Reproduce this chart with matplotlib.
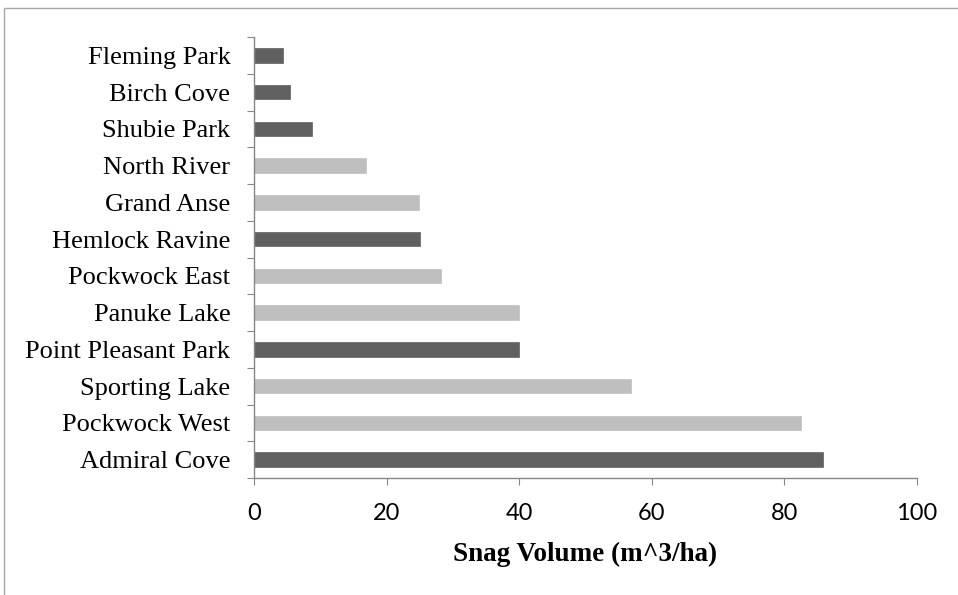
import matplotlib
matplotlib.use('Agg')
import matplotlib.pyplot as plt
from matplotlib.patches import Rectangle

# Data (bottom to top)
sites = ['Admiral Cove', 'Pockwock West', 'Sporting Lake', 'Point Pleasant Park',
         'Panuke Lake', 'Pockwock East', 'Hemlock Ravine', 'Grand Anse',
         'North River', 'Shubie Park', 'Birch Cove', 'Fleming Park']
snag_volume = [85.8, 82.5, 56.9, 39.9, 40.0, 28.2, 25.0, 24.9, 16.9, 8.8, 5.4, 4.3]
group = ['urban', 'rural', 'rural', 'urban', 'rural', 'rural', 'urban', 'rural',
         'rural', 'urban', 'urban', 'urban']
x_ticks = [0, 20, 40, 60, 80, 100]

Group_Colors = {'urban': '#606060', 'rural': '#bfbfbf'}
Axis_Color = '#868686'

figure = plt.figure(figsize=(9.58, 5.95), dpi=100)
axes = figure.add_axes([254 / 958, 1 - 478 / 595, (917 - 254) / 958, (478 - 37) / 595])

# light border round the chart area
figure.patches.append(Rectangle((4 / 958, -0.1), 1.1, 1 - 8 / 595 + 0.1,
                                transform=figure.transFigure, fill=False,
                                edgecolor='#a6a6a6', linewidth=1))

positions = list(range(len(sites)))
colors = [Group_Colors[g] for g in group]
axes.barh(positions, snag_volume, height=0.39, color=colors,
          edgecolor=colors, linewidth=0.5)

axes.set_xlim(0, 100)
axes.set_ylim(-0.5, len(sites) - 0.5)

for side in ['top', 'right']:
    axes.spines[side].set_visible(False)
for side in ['left', 'bottom']:
    axes.spines[side].set_color(Axis_Color)
    axes.spines[side].set_linewidth(1)

axes.set_xticks(x_ticks)
axes.set_xticklabels([str(v) for v in x_ticks], fontfamily='Lato', fontsize=17)
axes.tick_params(axis='x', direction='out', length=5, color=Axis_Color, pad=13)

# category ticks sit between bars, labels centred on bars
axes.set_yticks([p - 0.5 for p in positions] + [len(sites) - 0.5])
axes.set_yticklabels([])
axes.set_yticks(positions, minor=True)
axes.set_yticklabels(sites, minor=True, fontfamily='Liberation Serif', fontsize=19)
axes.tick_params(axis='y', which='major', direction='out', length=5, color=Axis_Color)
axes.tick_params(axis='y', which='minor', length=0, pad=17)

axes.set_xlabel('Snag Volume (m^3/ha)', fontfamily='Liberation Serif',
                fontweight='bold', fontsize=19.5, labelpad=12.5)

figure.savefig('out.png', dpi=100)
